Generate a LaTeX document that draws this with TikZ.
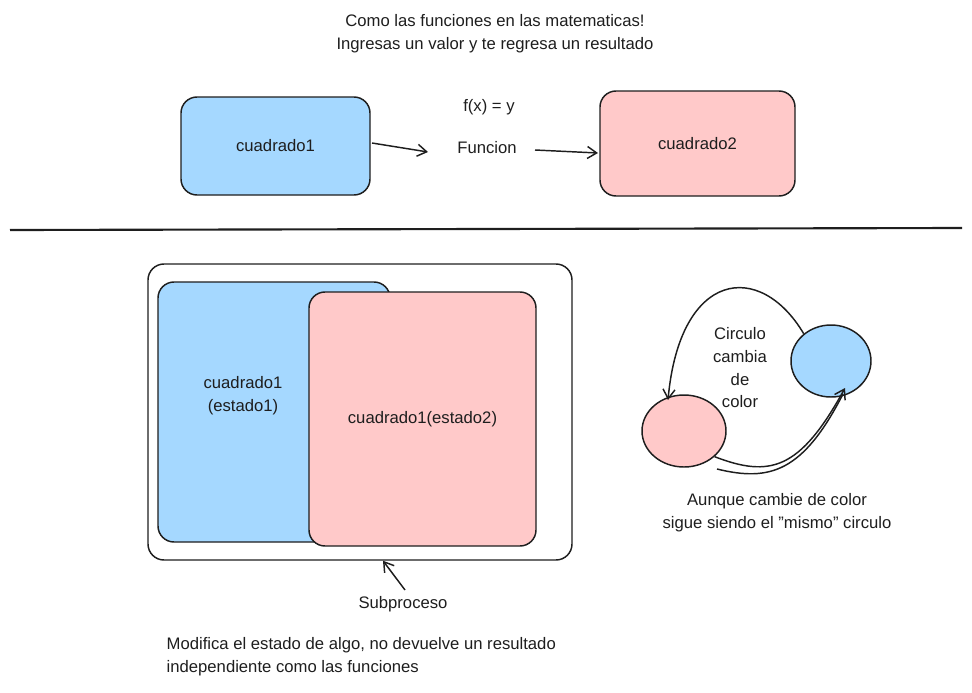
\documentclass[tikz,border=0pt]{standalone}
\usepackage{fontspec}
\setmainfont{Liberation Sans}
\usetikzlibrary{arrows.meta,shapes.geometric}
\definecolor{bl}{HTML}{A5D8FF}
\definecolor{pk}{HTML}{FFC9C9}
\definecolor{ink}{HTML}{1E1E1E}
\begin{document}
\begin{tikzpicture}[x=0.75pt,y=-0.75pt,
  box/.style={draw=ink,line width=1.1pt,rounded corners=12pt},
  arr/.style={draw=ink,line width=1.1pt,-{Straight Barb[length=7pt,width=9pt]}},
  txt/.style={font=\fontsize{12.5}{17}\selectfont,text=ink,align=center}]
\useasboundingbox (0,0) rectangle (972,693);
\node[txt] (title) at (495,34) {Como las funciones en las matematicas!\\Ingresas un valor y te regresa un resultado};
\node[box,fill=bl,minimum width=141.75pt,minimum height=73.5pt] (c1) at (275.5,146) {};
\node[txt] at (c1) {cuadrado1};
\node[box,fill=pk,minimum width=146.25pt,minimum height=78.75pt] (c2) at (697.5,143.5) {};
\node[txt] at (c2) {cuadrado2};
\node[txt] (fx) at (489,107) {f(x) = y};
\node[txt] (fn) at (487,148) {Funcion};
\coordinate (a1s) at (372,143); \coordinate (a1e) at (428,152);
\draw[arr] (a1s) -- (a1e);
\coordinate (a2s) at (535,150); \coordinate (a2e) at (598,153);
\draw[arr] (a2s) -- (a2e);
\coordinate (l1) at (10,230); \coordinate (l2) at (962,228);
\draw[ink,line width=1.6pt] (l1) -- (l2);
\node[box,fill=white,minimum width=318pt,minimum height=222pt] (outer) at (360,412) {};
\node[box,fill=bl,minimum width=174pt,minimum height=195pt] (s1) at (274,412) {};
\node[txt,anchor=center] (s1t) at (243,396) {cuadrado1\\(estado1)};
\node[box,fill=pk,minimum width=170.25pt,minimum height=190.5pt] (s2) at (422.5,419) {};
\node[txt] at (s2) {cuadrado1(estado2)};
\node[txt] (sub) at (403,604) {Subproceso};
\coordinate (sa) at (405,590);
\draw[arr] (sa) -- (outer.south -| 383,0);
\node[txt,align=left,anchor=west] (bot) at (162,657) {Modifica el estado de algo, no devuelve un resultado\\independiente como las funciones};
\node[draw=ink,line width=1.1pt,fill=bl,ellipse,minimum width=60pt,minimum height=54pt] (cb) at (831,361) {};
\node[draw=ink,line width=1.1pt,fill=pk,ellipse,minimum width=63pt,minimum height=54pt] (cp) at (684,431) {};
\node[txt] (ct) at (740,368) {Circulo\\cambia\\de\\color};
\draw[arr] (cb.135) .. controls (760,260) and (680,270) .. (668,400);
\draw[arr] (cp.-40) .. controls (770,478) and (800,470) .. (845,388);
\draw[ink,line width=1.1pt] (717,469) .. controls (770,482) and (803,472) .. (843,394);
\node[txt] (ct2) at (777,513) {Aunque cambie de color\\sigue siendo el \symbol{34}mismo\symbol{34} circulo};
\end{tikzpicture}
\end{document}
